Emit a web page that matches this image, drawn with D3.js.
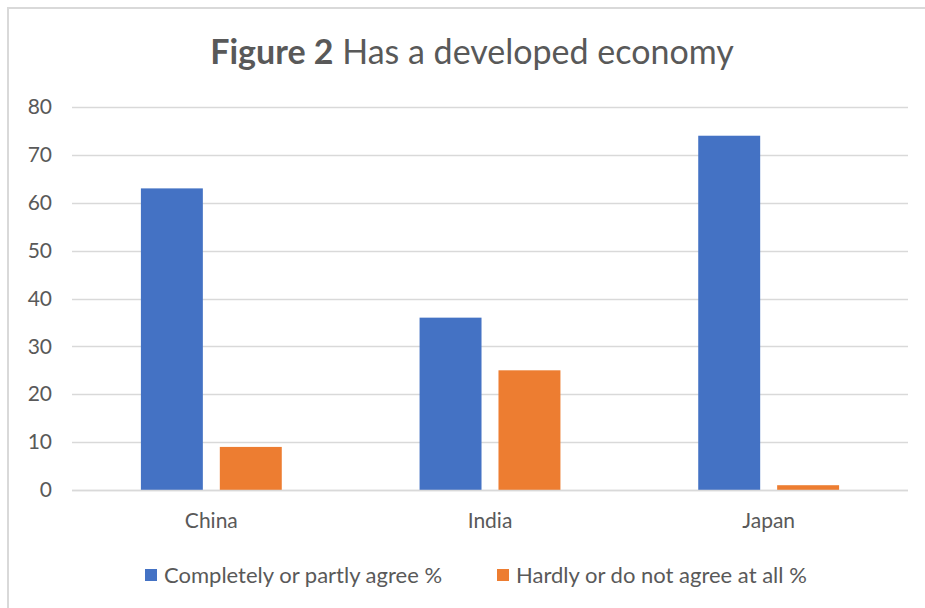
<!DOCTYPE html>
<html><head><meta charset="utf-8">
<script src="https://cdn.jsdelivr.net/npm/d3@7"></script>
<style>body{margin:0;background:#fff}svg{display:block}</style>
</head><body>
<script>
const categories = ["China", "India", "Japan"];
const seriesNames = ["Completely or partly agree %", "Hardly or do not agree at all %"];
const agreeValues = [63, 36, 74];
const disagreeValues = [9, 25, 1];
const yTicks = [0, 10, 20, 30, 40, 50, 60, 70, 80];
const colors = ["#4472C4", "#ED7D31"];

(function () {
const W = 925, H = 608;
const svg = d3.select("body").append("svg").attr("width", W).attr("height", H);
const font = "Lato, 'Open Sans', sans-serif";

svg.append("rect").attr("x", 0).attr("y", 0).attr("width", W).attr("height", H).attr("fill", "#fff");
// chart frame
svg.append("rect").attr("x", 8).attr("y", 8).attr("width", W + 20).attr("height", H + 20)
  .attr("fill", "none").attr("stroke", "#d9d9d9").attr("stroke-width", 2);

const pL = 72, pR = 908, pT = 107, pB = 490;
const y = d3.scaleLinear().domain([0, 80]).range([pB, pT]);
const x0 = d3.scaleBand().domain(categories).range([pL, pR]).padding(0);
const x1 = d3.scaleBand().domain(seriesNames).range([0, x0.bandwidth()])
  .paddingInner(0.215).paddingOuter(0.873);

// gridlines
svg.append("g").selectAll("line").data(yTicks).join("line")
  .attr("x1", pL).attr("x2", pR)
  .attr("y1", d => Math.round(y(d)) + 0.5).attr("y2", d => Math.round(y(d)) + 0.5)
  .attr("stroke", "#d9d9d9").attr("stroke-width", 1.5);

// y axis labels
const yAxis = d3.axisLeft(y).tickValues(yTicks).tickSize(0).tickPadding(0);
const gy = svg.append("g").attr("transform", `translate(${pL - 20},0)`).call(yAxis);
gy.select(".domain").remove();
gy.selectAll("text").attr("font-family", font).attr("font-size", 21).attr("fill", "#595959");

// bars
const data = categories.map((c, i) => ({cat: c, vals: [agreeValues[i], disagreeValues[i]]}));
const groups = svg.append("g").selectAll("g").data(data).join("g")
  .attr("transform", d => `translate(${x0(d.cat)},0)`);
groups.selectAll("rect").data(d => d.vals.map((v, j) => ({v, s: seriesNames[j], j})))
  .join("rect")
  .attr("x", d => x1(d.s)).attr("width", x1.bandwidth())
  .attr("y", d => y(d.v)).attr("height", d => y(0) - y(d.v))
  .attr("fill", d => colors[d.j]);

// baseline
svg.append("line").attr("x1", pL).attr("x2", pR)
  .attr("y1", pB + 0.5).attr("y2", pB + 0.5)
  .attr("stroke", "#d9d9d9").attr("stroke-width", 1.5);

// x axis labels
const xAxis = d3.axisBottom(x0).tickSize(0).tickPadding(0);
const gx = svg.append("g").attr("transform", `translate(0,${pB + 23})`).call(xAxis);
gx.select(".domain").remove();
gx.selectAll("text").attr("font-family", font).attr("font-size", 21).attr("fill", "#595959");

// title
const title = svg.append("text").attr("x", 472).attr("y", 64).attr("text-anchor", "middle")
  .attr("font-family", font).attr("font-size", 34).attr("fill", "#595959");
title.append("tspan").attr("font-weight", "bold").text("Figure 2");
title.append("tspan").text(" Has a developed economy");

// legend
const legendX = [145, 497];
const lg = svg.append("g").selectAll("g").data(seriesNames).join("g")
  .attr("transform", (d, i) => `translate(${legendX[i]},569)`);
lg.append("rect").attr("width", 12).attr("height", 12).attr("fill", (d, i) => colors[i]);
lg.append("text").attr("x", 19).attr("y", 6).attr("dy", "0.35em")
  .attr("font-family", font).attr("font-size", 22).attr("fill", "#595959").text(d => d);
})();
</script>
</body></html>
